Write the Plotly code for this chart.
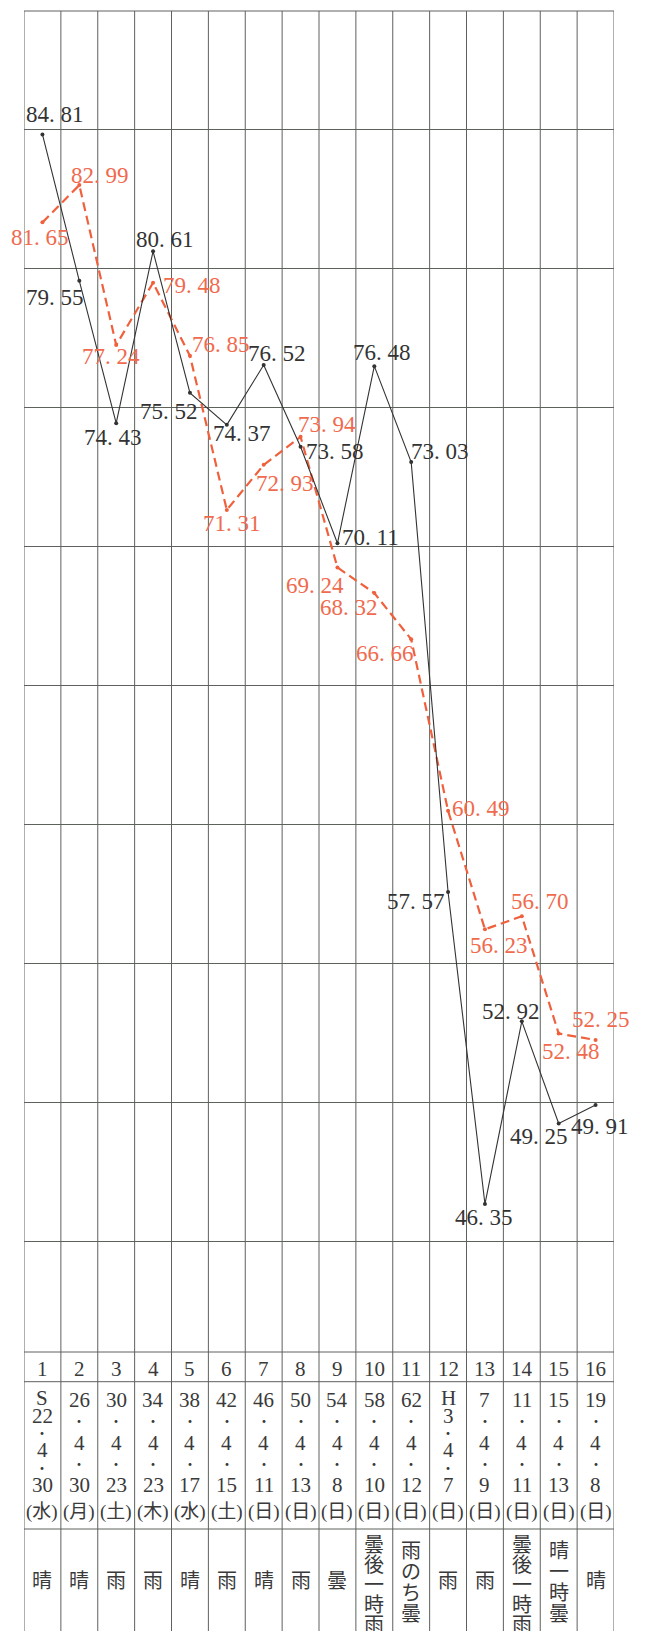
import plotly.graph_objects as go

# ---------------- data ----------------
cols = list(range(1, 17))
col_labels = [str(c) for c in cols]
series_black = [84.81, 79.55, 74.43, 80.61, 75.52, 74.37, 76.52, 73.58,
                70.11, 76.48, 73.03, 57.57, 46.35, 52.92, 49.25, 49.91]
series_red = [81.65, 82.99, 77.24, 79.48, 76.85, 71.31, 72.93, 73.94,
              69.24, 68.32, 66.66, 60.49, 56.23, 56.70, 52.48, 52.25]
era = ["S", "", "", "", "", "", "", "", "", "", "", "H", "", "", "", ""]
year = ["22", "26", "30", "34", "38", "42", "46", "50", "54", "58", "62",
        "3", "7", "11", "15", "19"]
month = ["4"] * 16
day = ["30", "30", "23", "23", "17", "15", "11", "13", "8", "10", "12",
       "7", "9", "11", "13", "8"]
weekday = ["水", "月", "土", "木", "水", "土", "日", "日", "日", "日", "日",
           "日", "日", "日", "日", "日"]
weather = ["晴", "晴", "雨", "雨", "晴", "雨", "晴", "雨", "曇", "曇後一時雨",
           "雨のち曇", "雨", "雨", "曇後一時雨", "晴一時曇", "晴"]

# ---------------- styles / label placement (pixel offsets) ----------------
black_off = [(13, 20), (-24, -17), (-3, -14), (12, 12), (-21, -19), (15, -9),
             (13, 12), (34, -5), (33, 6), (8, 14), (29, 11), (-32, -9),
             (-1, -13), (-11, 10), (-20, -13), (4, -21)]
red_off = [(-2, -15), (21, 10), (-5, -11), (39, -3), (31, 11), (5, -14),
           (21, -19), (26, 12), (-22, -18), (-25, -14), (-26, -14), (33, 2),
           (14, -16), (18, 15), (12, -18), (5, 20)]

# the page body has an 8px default margin; compensate so the window matches
OFF = 8
WIN_W, WIN_H = 652, 1631
W, H = WIN_W - OFF, WIN_H - OFF
L_WIN, R_WIN, T_WIN, B_WIN = 24, 614, 11, 1352
ML, MR, MT, MB = L_WIN - OFF, W - (R_WIN - OFF), T_WIN - OFF, H - (B_WIN - OFF)
PH = B_WIN - T_WIN
GRID = "#5d625c"
BLACK = "#333333"
RED_LINE = "#f0603c"
RED_TEXT = "#f06a4e"
NUMFONT = "Liberation Serif, Noto Sans CJK JP"
JPFONT = "Noto Sans CJK JP"


def py(Y):
    """window pixel row -> paper coordinate"""
    return (B_WIN - Y) / PH


def fmt(v):
    return f"{v:.2f}".replace(".", ". ")


fig = go.Figure()
fig.add_trace(go.Scatter(
    x=cols, y=series_red, mode="lines+markers",
    line=dict(color=RED_LINE, width=2.2, dash="9px,5px"),
    marker=dict(size=4, color=RED_LINE), showlegend=False))
fig.add_trace(go.Scatter(
    x=cols, y=series_black, mode="lines+markers",
    line=dict(color=BLACK, width=1.1),
    marker=dict(size=4, color=BLACK), showlegend=False))

ann = []
for c, v, (dx, dy) in zip(cols, series_black, black_off):
    ann.append(dict(x=c, y=v, xref="x", yref="y", text=fmt(v), showarrow=False,
                    xshift=dx, yshift=dy, xanchor="center", yanchor="middle",
                    font=dict(family=NUMFONT, size=23, color=BLACK)))
for c, v, (dx, dy) in zip(cols, series_red, red_off):
    ann.append(dict(x=c, y=v, xref="x", yref="y", text=fmt(v), showarrow=False,
                    xshift=dx, yshift=dy, xanchor="center", yanchor="middle",
                    font=dict(family=NUMFONT, size=23, color=RED_TEXT)))

TXT = "#3a3a3a"


def cell(c, Y, t, size=20, fam=NUMFONT):
    ann.append(dict(x=c, y=py(Y), xref="x", yref="paper", text=t,
                    showarrow=False, xanchor="center", yanchor="middle",
                    font=dict(family=fam, size=size, color=TXT)))


for i, c in enumerate(cols):
    cell(c, 1369, col_labels[i], size=21)
    if era[i]:
        parts = [era[i], year[i], "・", month[i], "・", day[i]]
        ys = [1398, 1416, 1432, 1450, 1467, 1485]
    else:
        parts = [year[i], "・", month[i], "・", day[i]]
        ys = [1400, 1420, 1443, 1463, 1485]
    for t, Y in zip(parts, ys):
        if t == "・":
            cell(c, Y, t, size=14, fam=JPFONT)
        else:
            cell(c, Y, t, size=21)
    cell(c, 1512, "(" + weekday[i] + ")", size=19, fam=NUMFONT)
    w = weather[i]
    if len(w) == 1:
        cell(c, 1579, w, size=20, fam=JPFONT)
    else:
        start, step = (1543, 20) if len(w) == 5 else (1549, 21)
        for k, ch in enumerate(w):
            cell(c, start + k * step, ch, size=20, fam=JPFONT)

shapes = []
for k in range(17):
    shapes.append(dict(type="line", xref="x", yref="paper", x0=k + 0.5, x1=k + 0.5,
                       y0=py(WIN_H + 20), y1=1, line=dict(color=GRID, width=1),
                       layer="below"))
for Y in [T_WIN, B_WIN, 1381.7, 1529]:
    shapes.append(dict(type="line", xref="x", yref="paper", x0=0.5, x1=16.5,
                       y0=py(Y), y1=py(Y), line=dict(color=GRID, width=1),
                       layer="below"))

fig.update_layout(
    width=W, height=H,
    margin=dict(l=ML, r=MR, t=MT, b=MB, pad=0),
    paper_bgcolor="white", plot_bgcolor="white",
    xaxis=dict(range=[0.5, 16.5], showgrid=False, zeroline=False,
               showticklabels=False, ticks="", fixedrange=True),
    yaxis=dict(range=[41.03, 89.25], tick0=45, dtick=5, showgrid=True,
               gridcolor=GRID, gridwidth=1, zeroline=False,
               showticklabels=False, ticks="", fixedrange=True),
    annotations=ann, shapes=shapes, showlegend=False,
)

fig.write_html("out.html")
